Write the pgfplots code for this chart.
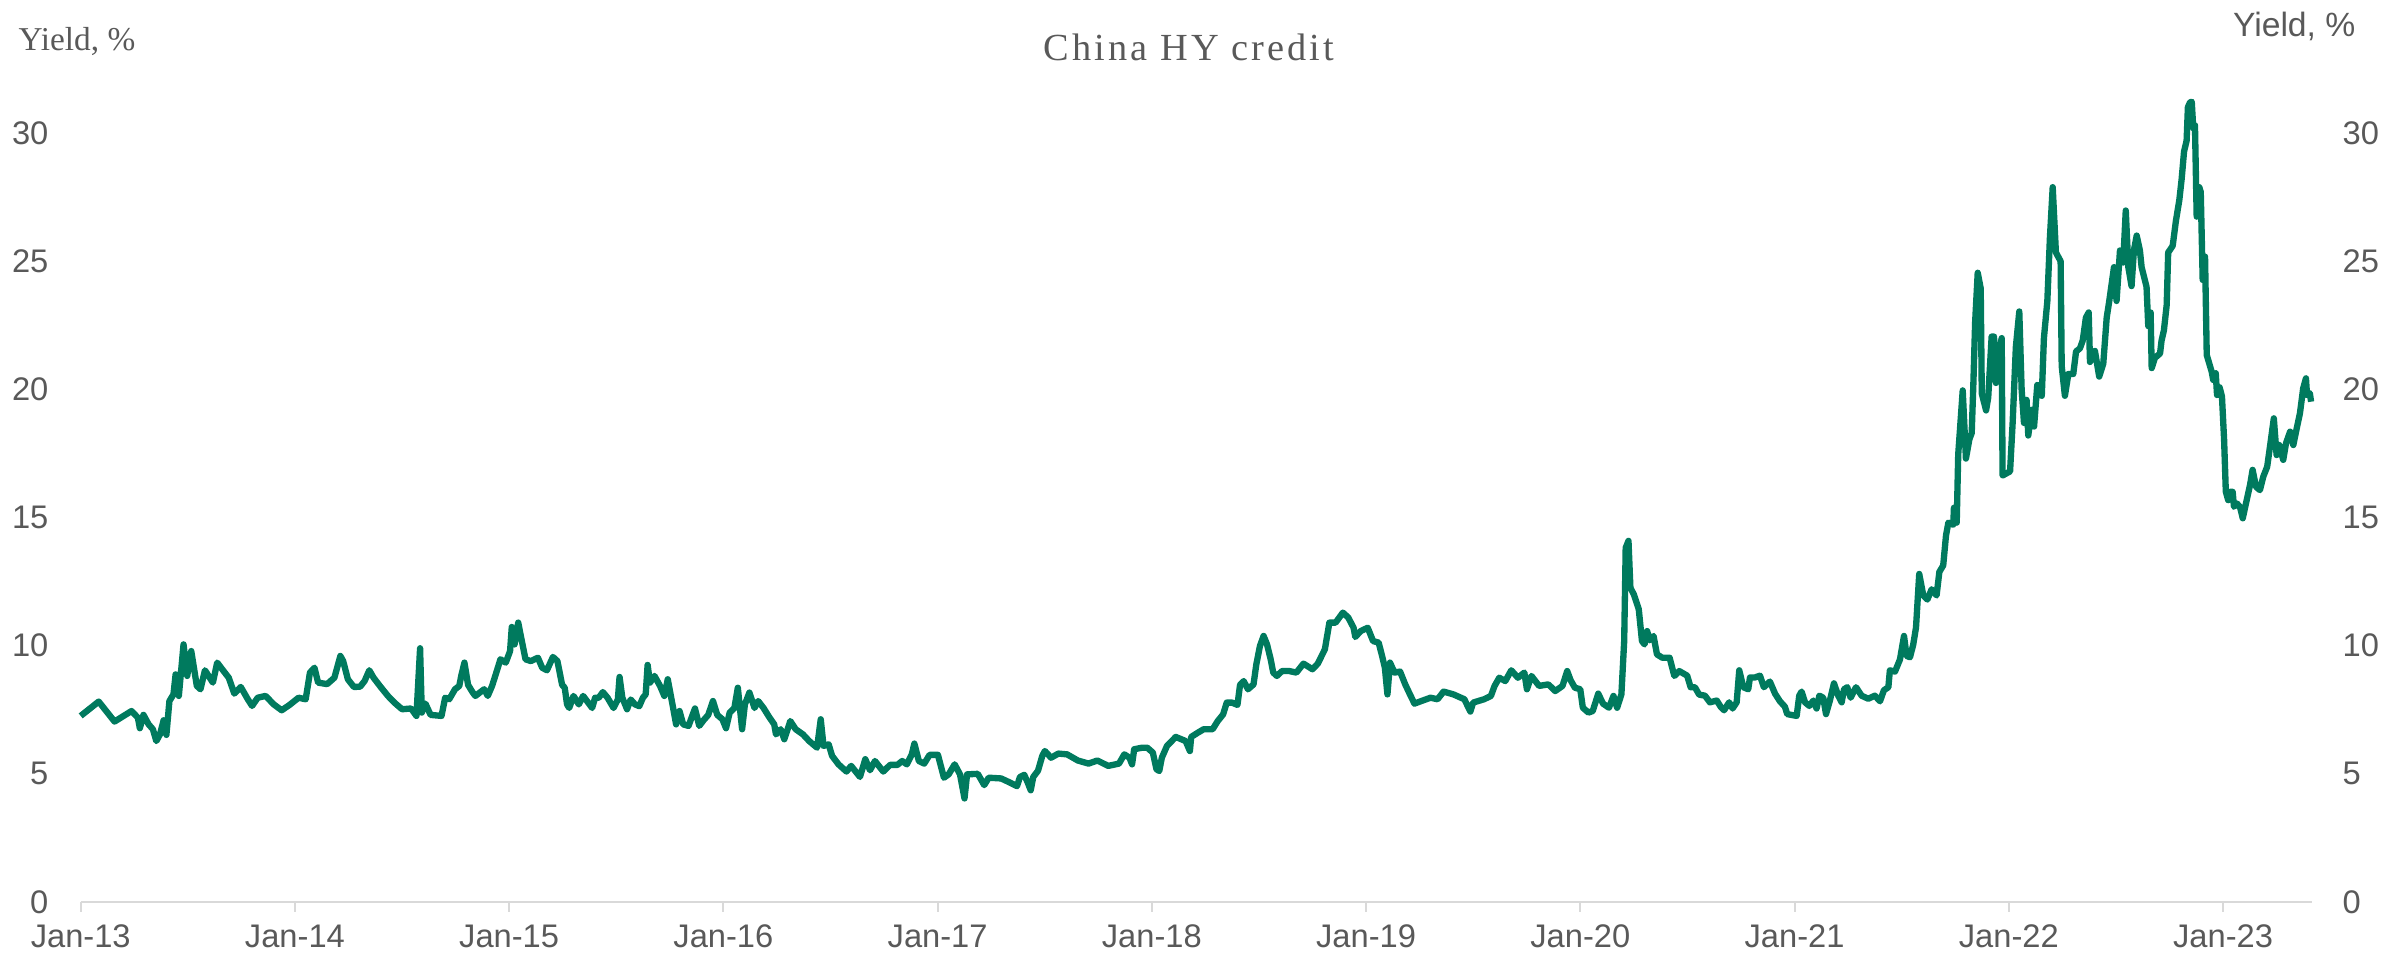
\documentclass[border=0pt]{standalone}
\usepackage{fontspec}
\setmainfont{Liberation Sans}
\newfontfamily\serifface{Liberation Serif}
\newfontfamily\titleface[LetterSpace=8]{Liberation Serif}
\usepackage{pgfplots}
\usepackage{pgfplotstable}
\pgfplotsset{compat=1.18}

\definecolor{hyline}{HTML}{007A5E}
\definecolor{labgrey}{HTML}{595959}
\definecolor{axgrey}{HTML}{D9D9D9}

% China HY credit yield, % (date as decimal year)
\pgfplotstableread{
year yield
2013.000 7.26
2013.084 7.82
2013.158 7.04
2013.237 7.45
2013.267 7.19
2013.276 6.78
2013.293 7.30
2013.317 6.93
2013.337 6.74
2013.353 6.28
2013.370 6.54
2013.387 7.09
2013.400 6.52
2013.414 7.84
2013.433 8.10
2013.443 8.88
2013.458 8.04
2013.480 10.05
2013.497 8.82
2013.516 9.79
2013.542 8.43
2013.559 8.30
2013.580 9.04
2013.617 8.56
2013.637 9.34
2013.667 9.01
2013.691 8.75
2013.717 8.13
2013.747 8.39
2013.780 7.91
2013.800 7.65
2013.826 7.97
2013.863 8.04
2013.901 7.71
2013.938 7.48
2013.975 7.69
2014.017 7.97
2014.050 7.91
2014.070 8.95
2014.091 9.14
2014.108 8.56
2014.150 8.50
2014.184 8.75
2014.212 9.60
2014.225 9.40
2014.247 8.69
2014.275 8.39
2014.304 8.40
2014.325 8.62
2014.347 9.04
2014.367 8.75
2014.400 8.39
2014.434 8.04
2014.464 7.78
2014.500 7.52
2014.542 7.55
2014.567 7.26
2014.584 9.90
2014.592 7.39
2014.609 7.74
2014.633 7.30
2014.684 7.26
2014.701 7.97
2014.720 7.91
2014.747 8.30
2014.767 8.43
2014.776 8.82
2014.791 9.34
2014.808 8.47
2014.830 8.17
2014.842 8.04
2014.883 8.30
2014.900 8.04
2014.920 8.43
2014.942 9.01
2014.959 9.47
2014.984 9.34
2015.004 9.79
2015.012 10.73
2015.025 10.05
2015.042 10.90
2015.059 10.18
2015.076 9.47
2015.101 9.40
2015.134 9.53
2015.154 9.14
2015.176 9.04
2015.204 9.56
2015.225 9.40
2015.247 8.47
2015.259 8.36
2015.270 7.71
2015.280 7.57
2015.300 8.04
2015.325 7.71
2015.345 8.04
2015.363 7.84
2015.387 7.57
2015.401 7.97
2015.418 7.97
2015.437 8.19
2015.459 7.97
2015.487 7.57
2015.507 7.90
2015.515 8.78
2015.528 7.97
2015.550 7.52
2015.567 7.90
2015.587 7.71
2015.607 7.64
2015.624 7.97
2015.637 8.10
2015.646 9.25
2015.657 8.56
2015.678 8.82
2015.704 8.43
2015.724 8.04
2015.740 8.69
2015.762 7.71
2015.779 6.93
2015.795 7.45
2015.812 6.93
2015.837 6.87
2015.867 7.55
2015.887 6.87
2015.907 7.09
2015.929 7.30
2015.951 7.84
2015.971 7.30
2015.995 7.13
2016.012 6.78
2016.029 7.39
2016.051 7.57
2016.067 8.36
2016.087 6.74
2016.100 7.71
2016.121 8.17
2016.145 7.57
2016.162 7.84
2016.187 7.57
2016.213 7.22
2016.237 6.93
2016.245 6.54
2016.267 6.74
2016.284 6.35
2016.312 7.06
2016.337 6.74
2016.371 6.54
2016.400 6.28
2016.437 6.02
2016.454 7.13
2016.467 6.09
2016.491 6.15
2016.507 5.70
2016.537 5.37
2016.574 5.09
2016.596 5.31
2016.637 4.88
2016.662 5.57
2016.684 5.14
2016.707 5.50
2016.746 5.09
2016.778 5.35
2016.812 5.35
2016.834 5.50
2016.856 5.37
2016.879 5.76
2016.891 6.18
2016.912 5.50
2016.937 5.40
2016.962 5.74
2017.001 5.74
2017.029 4.85
2017.051 4.98
2017.079 5.37
2017.104 4.98
2017.125 4.04
2017.137 4.98
2017.187 5.00
2017.217 4.56
2017.238 4.85
2017.296 4.82
2017.337 4.66
2017.370 4.52
2017.384 4.88
2017.404 4.96
2017.420 4.66
2017.434 4.36
2017.446 4.88
2017.468 5.12
2017.488 5.70
2017.500 5.89
2017.529 5.63
2017.563 5.79
2017.604 5.76
2017.654 5.52
2017.704 5.40
2017.745 5.52
2017.796 5.31
2017.846 5.40
2017.871 5.76
2017.895 5.63
2017.907 5.37
2017.917 5.96
2017.954 6.02
2017.978 6.02
2018.004 5.83
2018.021 5.18
2018.034 5.11
2018.046 5.63
2018.070 6.09
2018.111 6.44
2018.157 6.28
2018.177 5.89
2018.183 6.44
2018.215 6.61
2018.241 6.74
2018.283 6.74
2018.307 7.06
2018.332 7.32
2018.349 7.78
2018.373 7.78
2018.399 7.69
2018.411 8.47
2018.428 8.62
2018.448 8.30
2018.474 8.49
2018.487 9.27
2018.504 9.99
2018.521 10.38
2018.537 10.05
2018.554 9.47
2018.566 8.95
2018.583 8.82
2018.607 9.01
2018.641 9.01
2018.674 8.95
2018.707 9.30
2018.749 9.08
2018.774 9.30
2018.807 9.86
2018.828 10.90
2018.857 10.90
2018.891 11.29
2018.916 11.10
2018.941 10.70
2018.949 10.34
2018.974 10.57
2019.007 10.70
2019.032 10.18
2019.058 10.12
2019.074 9.60
2019.087 9.14
2019.099 8.10
2019.111 9.34
2019.132 8.95
2019.158 8.99
2019.182 8.49
2019.204 8.10
2019.225 7.74
2019.257 7.84
2019.300 7.97
2019.333 7.91
2019.361 8.21
2019.407 8.10
2019.458 7.91
2019.486 7.43
2019.499 7.78
2019.550 7.91
2019.582 8.04
2019.599 8.43
2019.621 8.75
2019.649 8.62
2019.677 9.04
2019.708 8.75
2019.738 8.95
2019.750 8.30
2019.771 8.82
2019.807 8.43
2019.850 8.49
2019.882 8.23
2019.916 8.43
2019.938 9.01
2019.954 8.65
2019.974 8.36
2019.999 8.30
2020.011 7.58
2020.037 7.39
2020.057 7.45
2020.083 8.13
2020.105 7.74
2020.133 7.58
2020.154 8.04
2020.171 7.58
2020.191 8.10
2020.204 10.18
2020.211 13.82
2020.224 14.09
2020.233 12.26
2020.249 12.00
2020.272 11.42
2020.287 10.18
2020.299 10.05
2020.311 10.57
2020.324 10.21
2020.341 10.38
2020.357 9.66
2020.382 9.53
2020.416 9.53
2020.438 8.82
2020.461 9.01
2020.498 8.83
2020.514 8.38
2020.534 8.38
2020.554 8.09
2020.581 8.05
2020.604 7.79
2020.636 7.86
2020.654 7.62
2020.670 7.48
2020.694 7.79
2020.710 7.55
2020.729 7.79
2020.741 9.04
2020.760 8.38
2020.783 8.30
2020.791 8.76
2020.814 8.76
2020.838 8.83
2020.856 8.38
2020.884 8.60
2020.908 8.13
2020.931 7.83
2020.954 7.62
2020.965 7.33
2021.009 7.26
2021.021 8.05
2021.032 8.21
2021.048 7.79
2021.068 7.65
2021.087 7.86
2021.102 7.55
2021.115 8.05
2021.133 7.97
2021.146 7.33
2021.164 7.86
2021.183 8.53
2021.203 8.05
2021.219 7.79
2021.230 8.30
2021.245 8.38
2021.261 7.97
2021.286 8.38
2021.312 8.05
2021.343 7.93
2021.374 8.05
2021.398 7.83
2021.416 8.26
2021.437 8.38
2021.444 9.04
2021.468 8.99
2021.491 9.46
2021.510 10.38
2021.522 9.60
2021.538 9.55
2021.553 10.04
2021.566 10.71
2021.581 12.80
2021.600 11.96
2021.619 11.80
2021.639 12.20
2021.662 11.96
2021.675 12.88
2021.693 13.13
2021.706 14.30
2021.717 14.80
2021.740 14.72
2021.743 15.38
2021.756 14.80
2021.763 17.46
2021.784 19.96
2021.799 17.30
2021.815 18.05
2021.826 18.30
2021.834 20.30
2021.842 22.63
2021.854 24.55
2021.868 23.94
2021.873 19.84
2021.893 19.18
2021.903 19.68
2021.919 22.06
2021.930 22.06
2021.939 20.25
2021.950 21.30
2021.966 22.00
2021.970 16.64
2022.005 16.80
2022.017 18.69
2022.032 21.65
2022.048 23.04
2022.059 20.00
2022.070 18.69
2022.082 19.59
2022.090 18.20
2022.106 19.20
2022.117 18.55
2022.132 20.17
2022.153 19.75
2022.163 22.00
2022.179 23.45
2022.191 25.92
2022.204 27.89
2022.219 25.34
2022.241 25.00
2022.246 20.91
2022.261 19.75
2022.277 20.60
2022.300 20.60
2022.313 21.48
2022.331 21.60
2022.344 21.90
2022.359 22.80
2022.372 23.00
2022.378 21.07
2022.401 21.50
2022.421 20.50
2022.440 21.00
2022.456 22.80
2022.468 23.45
2022.490 24.77
2022.502 23.45
2022.518 25.42
2022.533 24.95
2022.545 26.98
2022.557 24.77
2022.572 24.03
2022.583 25.42
2022.596 26.00
2022.611 25.42
2022.619 24.77
2022.642 24.00
2022.650 22.47
2022.661 23.00
2022.666 20.83
2022.681 21.23
2022.705 21.40
2022.712 21.90
2022.723 22.30
2022.736 23.29
2022.743 25.34
2022.764 25.60
2022.779 26.57
2022.795 27.39
2022.806 28.22
2022.817 29.28
2022.829 29.70
2022.835 31.01
2022.845 31.20
2022.853 31.22
2022.860 30.19
2022.868 30.30
2022.876 26.74
2022.888 27.89
2022.895 27.70
2022.904 24.27
2022.915 25.18
2022.923 21.34
2022.946 20.69
2022.953 20.37
2022.965 20.63
2022.971 19.78
2022.983 20.08
2022.994 19.72
2023.004 18.03
2023.012 16.01
2023.023 15.68
2023.034 16.01
2023.044 16.00
2023.050 15.42
2023.063 15.55
2023.078 15.42
2023.091 14.97
2023.106 15.55
2023.125 16.27
2023.137 16.86
2023.153 16.20
2023.171 16.07
2023.187 16.60
2023.205 16.98
2023.218 17.76
2023.236 18.87
2023.249 17.44
2023.261 17.83
2023.280 17.25
2023.293 17.90
2023.312 18.35
2023.327 17.83
2023.343 18.48
2023.358 19.07
2023.373 20.04
2023.386 20.43
2023.391 19.78
2023.404 19.85
2023.410 19.52
}\hydata

\begin{document}
\begin{tikzpicture}
\path[use as bounding box] (0,0) rectangle (716.1pt,288.6pt);

% left axis with the series
\begin{axis}[
  at={(24.21pt,18pt)}, anchor=south west,
  scale only axis, width=669.3pt, height=246.05pt,
  xmin=2013, xmax=2023.413, ymin=0, ymax=32,
  axis x line*=bottom, axis y line*=left,
  x axis line style={axgrey, line width=0.6pt, -},
  y axis line style={draw=none},
  xtick={2013,...,2023},
  xticklabels={Jan-13,Jan-14,Jan-15,Jan-16,Jan-17,Jan-18,Jan-19,Jan-20,Jan-21,Jan-22,Jan-23},
  ytick={0,5,...,30},
  tick align=outside, major tick length=3pt,
  xtick style={axgrey, line width=0.6pt},
  ytick style={draw=none},
  ticklabel style={font=\fontsize{9.8}{11}\selectfont, text=labgrey},
  xticklabel style={inner sep=0pt, yshift=-3.6pt},
  yticklabel style={inner sep=0pt, xshift=-6.5pt},
  /pgf/number format/assume math mode=true,
  clip=false,
]
\addplot[hyline, line width=1.9pt, line join=round] table[x=year, y=yield] {\hydata};
\end{axis}

% right axis, labels only
\begin{axis}[
  at={(24.21pt,18pt)}, anchor=south west,
  scale only axis, width=669.3pt, height=246.05pt,
  xmin=2013, xmax=2023.413, ymin=0, ymax=32,
  hide x axis, axis y line*=right,
  y axis line style={draw=none},
  ytick={0,5,...,30},
  tick align=outside, major tick length=3pt,
  ytick style={draw=none},
  ticklabel style={font=\fontsize{9.8}{11}\selectfont, text=labgrey},
  yticklabel style={inner sep=0pt, xshift=6.1pt},
  /pgf/number format/assume math mode=true,
]
\addplot[draw=none] coordinates {(2013,0)};
\end{axis}

\node[anchor=base west, inner sep=0pt, text=labgrey, font=\serifface\fontsize{10}{12}\selectfont] at (5.4pt,273.4pt) {Yield, \%};
\node[anchor=base east, inner sep=0pt, text=labgrey, font=\fontsize{10.1}{12}\selectfont] at (706.8pt,277.5pt) {Yield, \%};
\node[anchor=base, inner sep=0pt, text=labgrey, font=\titleface\fontsize{11.5}{13}\selectfont] at (356.7pt,270.4pt) {China HY credit};
\end{tikzpicture}
\end{document}
